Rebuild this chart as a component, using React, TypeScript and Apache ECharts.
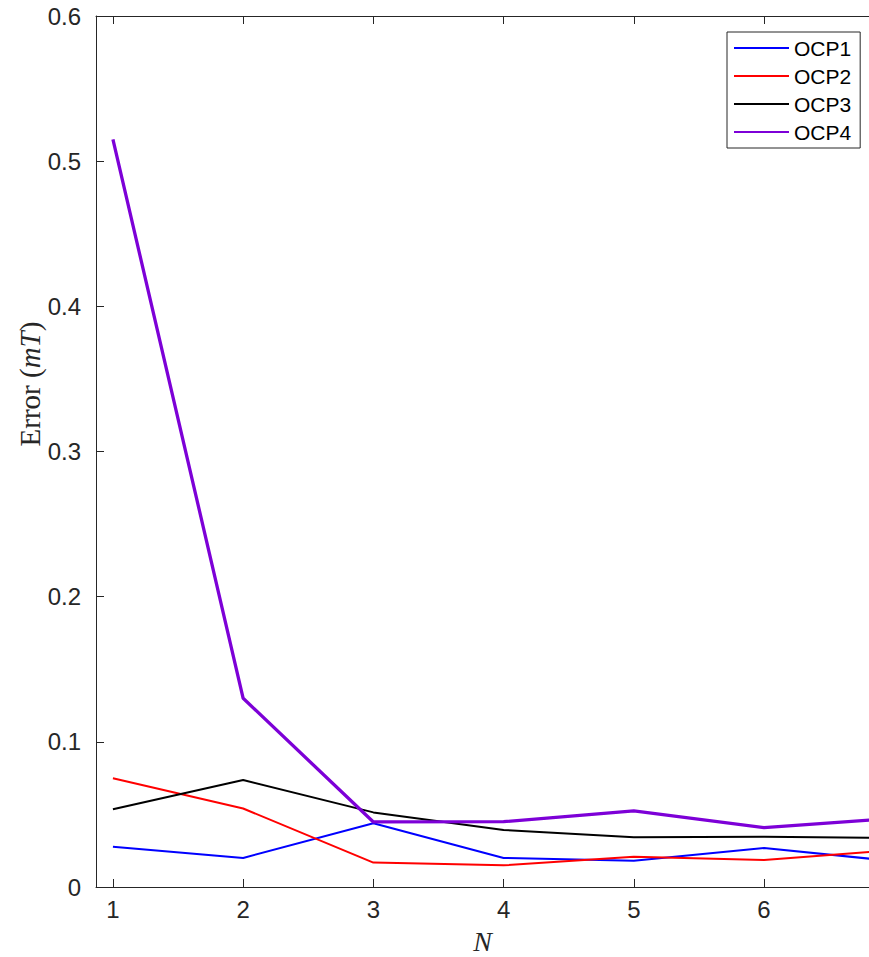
import React, { useEffect, useRef } from "react";
import * as echarts from "echarts";

const nValues = [1, 2, 3, 4, 5, 6, 7];
const ocp1 = [0.0278, 0.020, 0.0439, 0.020, 0.0181, 0.0268, 0.0178];
const ocp2 = [0.0749, 0.0541, 0.0168, 0.0149, 0.0209, 0.0186, 0.0255];
const ocp3 = [0.0535, 0.0737, 0.0514, 0.0393, 0.0342, 0.0347, 0.0337];
const ocp4 = [0.515, 0.130, 0.0448, 0.045, 0.0525, 0.0409, 0.0473];
const seriesNames = ["OCP1", "OCP2", "OCP3", "OCP4"];
const seriesColors = ["#0000FF", "#FF0000", "#000000", "#7D00D7"];
const seriesWidths = [2, 2, 2, 3.3];
const xTicks = [1, 2, 3, 4, 5, 6];

const axisColor = "#262626";

export default function App() {
  const ref = useRef<HTMLDivElement>(null);
  useEffect(() => {
    document.body.style.margin = "0";
    const chart = echarts.init(ref.current!, null, { renderer: "svg" });
    const allData = [ocp1, ocp2, ocp3, ocp4];
    chart.setOption({
      animation: false,
      backgroundColor: "#ffffff",
      grid: { left: 96, top: 16, right: 0, bottom: 70, outerBoundsMode: "none", containLabel: false },
      legend: {
        orient: "vertical",
        left: 727,
        top: 32,
        padding: [5, 9, 5, 6],
        itemWidth: 55,
        itemHeight: 22,
        itemGap: 6,
        backgroundColor: "#ffffff",
        borderColor: axisColor,
        borderWidth: 1,
        borderRadius: 0,
        itemStyle: { opacity: 0 },
        textStyle: {
          fontFamily: "Liberation Sans, Arial, sans-serif",
          fontSize: 21,
          color: "#000000",
          lineHeight: 22,
        },
        data: seriesNames,
      },
      xAxis: [
        {
          type: "value",
          min: 0.87,
          max: 6.806,
          name: "N",
          nameLocation: "middle",
          nameGap: 40,
          nameTextStyle: {
            fontFamily: "Liberation Serif, Times New Roman, serif",
            fontStyle: "italic",
            fontSize: 28,
            color: axisColor,
          },
          axisLine: { show: true, lineStyle: { color: axisColor, width: 1 } },
          axisTick: {
            show: true,
            inside: true,
            length: 8,
            customValues: xTicks,
            lineStyle: { color: axisColor },
          },
          axisLabel: {
            customValues: xTicks,
            fontFamily: "Liberation Sans, Arial, sans-serif",
            fontSize: 24,
            color: axisColor,
            margin: 10,
          },
          splitLine: { show: false },
        },
        {
          type: "value",
          position: "top",
          min: 0.87,
          max: 6.806,
          axisLine: { show: true, onZero: false, lineStyle: { color: axisColor, width: 1 } },
          axisTick: {
            show: true,
            inside: true,
            length: 8,
            customValues: xTicks,
            lineStyle: { color: axisColor },
          },
          axisLabel: { show: false },
          splitLine: { show: false },
        },
      ],
      yAxis: {
        type: "value",
        min: 0,
        max: 0.6,
        interval: 0.1,
        axisLine: { show: true, lineStyle: { color: axisColor, width: 1 } },
        axisTick: { show: true, inside: true, length: 8, lineStyle: { color: axisColor } },
        axisLabel: {
          fontFamily: "Liberation Sans, Arial, sans-serif",
          fontSize: 24,
          color: axisColor,
          margin: 15,
        },
        splitLine: { show: false },
      },
      graphic: [
        {
          type: "text",
          x: 30,
          y: 384,
          rotation: Math.PI / 2,
          style: {
            text: "Error ({i|mT})",
            fontFamily: "Liberation Serif, Times New Roman, serif",
            fontSize: 29,
            fill: axisColor,
            align: "center",
            verticalAlign: "middle",
            rich: {
              i: {
                fontFamily: "Liberation Serif, Times New Roman, serif",
                fontStyle: "italic",
                fontSize: 29,
                fill: axisColor,
              },
            },
          },
        },
      ],
      series: seriesNames.map((name, i) => ({
        name,
        type: "line",
        xAxisIndex: 0,
        symbol: "none",
        clip: true,
        data: nValues.map((n, j) => [n, allData[i][j]]),
        lineStyle: { color: seriesColors[i], width: seriesWidths[i] },
        itemStyle: { color: seriesColors[i] },
        z: 2 + i,
      })),
    });
    return () => chart.dispose();
  }, []);
  return (
    <div
      ref={ref}
      style={{ width: 869, height: 957, position: "absolute", left: 0, top: 0 }}
    />
  );
}
